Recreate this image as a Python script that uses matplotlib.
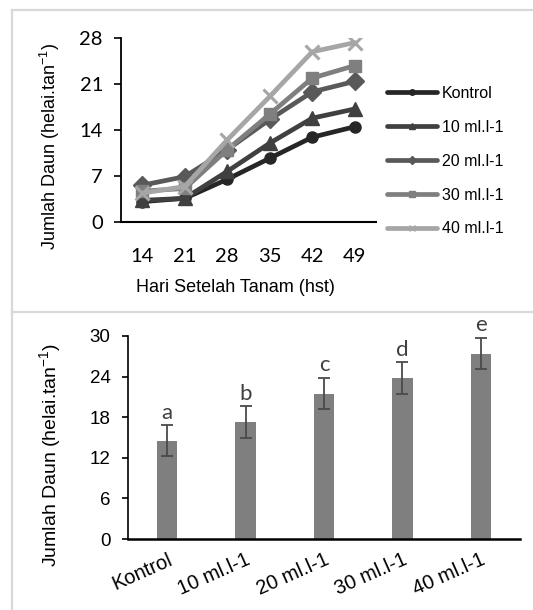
import matplotlib
matplotlib.use('Agg')
import matplotlib.pyplot as plt
from matplotlib.lines import Line2D
import matplotlib.transforms as mtransforms

# ---------------- data ----------------
days = ['14', '21', '28', '35', '42', '49']
treatments = ['Kontrol', '10 ml.l-1', '20 ml.l-1', '30 ml.l-1', '40 ml.l-1']
kontrol = [3.1, 3.6, 6.5, 9.7, 12.9, 14.5]
ml10 = [3.3, 3.6, 7.7, 12.0, 15.8, 17.2]
ml20 = [5.6, 6.9, 11.0, 15.6, 19.8, 21.4]
ml30 = [4.7, 5.1, 11.0, 16.4, 21.9, 23.8]
ml40 = [4.4, 5.4, 12.5, 19.1, 25.9, 27.3]
final_mean = [14.5, 17.3, 21.5, 23.8, 27.4]
final_err = [2.3, 2.3, 2.3, 2.3, 2.3]
letters = ['a', 'b', 'c', 'd', 'e']
top_yticks = [0, 7, 14, 21, 28]
bottom_yticks = [0, 6, 12, 18, 24, 30]

series = [kontrol, ml10, ml20, ml30, ml40]

# ---------------- style ----------------
plt.rcParams['font.family'] = ['Liberation Sans', 'DejaVu Sans']
plt.rcParams['mathtext.fontset'] = 'custom'
plt.rcParams['mathtext.rm'] = 'Liberation Sans'
plt.rcParams['mathtext.default'] = 'regular'

colors = ['#262626', '#404040', '#595959', '#7f7f7f', '#a6a6a6']
markers = ['o', '^', 'D', 's', 'x']
msizes = [8, 10, 9, 8.5, 10]

W, H = 533, 610
fig = plt.figure(figsize=(W / 100, H / 100), dpi=100)


def fx(px):
    return px / W


def fy(py):
    return 1 - py / H


# panel borders
border = dict(color='#d9d9d9', lw=1.6, transform=fig.transFigure)
fig.add_artist(Line2D([fx(12), 1], [fy(9.5), fy(9.5)], **border))
fig.add_artist(Line2D([fx(12), fx(12)], [fy(9.5), 0], **border))
fig.add_artist(Line2D([fx(12), 1], [fy(311.5), fy(311.5)], **border))

# ---------------- top chart ----------------
ax1 = fig.add_axes([fx(121), fy(222), fx(376) - fx(121), fy(38) - fy(222)])
x = list(range(len(days)))
for vals, lab, c, m, ms in zip(series, treatments, colors, markers, msizes):
    ax1.plot(x, vals, color=c, lw=3.4, marker=m, markersize=ms,
             markeredgewidth=2.2 if m == 'x' else 1, markeredgecolor=c,
             markerfacecolor=c, label=lab, solid_capstyle='round')
ax1.set_xlim(-0.5, 5.5)
ax1.set_ylim(0, 28)
ax1.set_yticks(top_yticks)
ax1.set_xticks(x)
ax1.set_xticklabels(days)
for s in ['top', 'right']:
    ax1.spines[s].set_visible(False)
ax1.spines['left'].set_linewidth(1.3)
ax1.spines['bottom'].set_linewidth(1.5)
ax1.tick_params(axis='x', length=0, pad=19)
ax1.tick_params(axis='y', length=5, width=1.2, pad=8)
for t in ax1.get_xticklabels() + ax1.get_yticklabels():
    t.set_family(['Lato', 'DejaVu Sans'])
    t.set_fontsize(14.5)
ax1.set_ylabel(r'Jumlah Daun (helai.tan$^{-1}$)', fontsize=13, va='center')
ax1.yaxis.set_label_coords((50 - 121) / 255, 0.5 - (146 - 130) / 184)
ax1.set_xlabel('Hari Setelah Tanam (hst)', fontsize=13, va='center')
ax1.xaxis.set_label_coords((235 - 121) / 255, (222 - 287) / 184)

handles = [Line2D([0], [0], color=c, lw=3.4, marker=m, markersize=4,
                  markerfacecolor=c, markeredgecolor=c,
                  solid_capstyle='round')
           for c, m in zip(colors, markers)]
ax1.legend(handles, treatments, loc='upper left',
           bbox_to_anchor=(fx(387), fy(86)), bbox_transform=fig.transFigure,
           frameon=False, fontsize=11.5, handlelength=3.1, handletextpad=0.35,
           labelspacing=1.18, borderpad=0, borderaxespad=0)

# ---------------- bottom chart ----------------
ax2 = fig.add_axes([fx(128), fy(539), fx(520) - fx(128), fy(336) - fy(539)])
xb = list(range(len(treatments)))
ax2.bar(xb, final_mean, width=0.26, color='#7f7f7f', yerr=final_err,
        error_kw=dict(ecolor='#4a4a4a', elinewidth=1.3, capsize=4,
                      capthick=1.3))
for i, (mval, e, l) in enumerate(zip(final_mean, final_err, letters)):
    ax2.annotate(l, (i, mval + e), xytext=(0, 2), textcoords='offset points',
                 ha='center', va='bottom', fontsize=16,
                 family=['Lato', 'DejaVu Sans'], color='#404040')
ax2.set_xlim(-0.5, 4.5)
ax2.set_ylim(0, 30)
ax2.set_yticks(bottom_yticks)
ax2.set_xticks(xb)
ax2.set_xticklabels(treatments, rotation=24, ha='right', va='top',
                    rotation_mode='anchor', fontsize=14.5)
shift = mtransforms.ScaledTranslation(0.06, 0, fig.dpi_scale_trans)
for t in ax2.get_xticklabels():
    t.set_transform(t.get_transform() + shift)
for s in ['top', 'right']:
    ax2.spines[s].set_visible(False)
ax2.spines['left'].set_linewidth(1.2)
ax2.spines['bottom'].set_linewidth(1.8)
ax2.tick_params(axis='x', length=0, pad=8)
ax2.tick_params(axis='y', length=4.5, width=1.2, pad=8, labelsize=13.5)
ax2.set_ylabel(r'Jumlah Daun (helai.tan$^{-1}$)', fontsize=14, va='center')
ax2.yaxis.set_label_coords((50 - 128) / 392, 0.5 - (455 - 437.5) / 203)

fig.savefig('out.png', dpi=100)
